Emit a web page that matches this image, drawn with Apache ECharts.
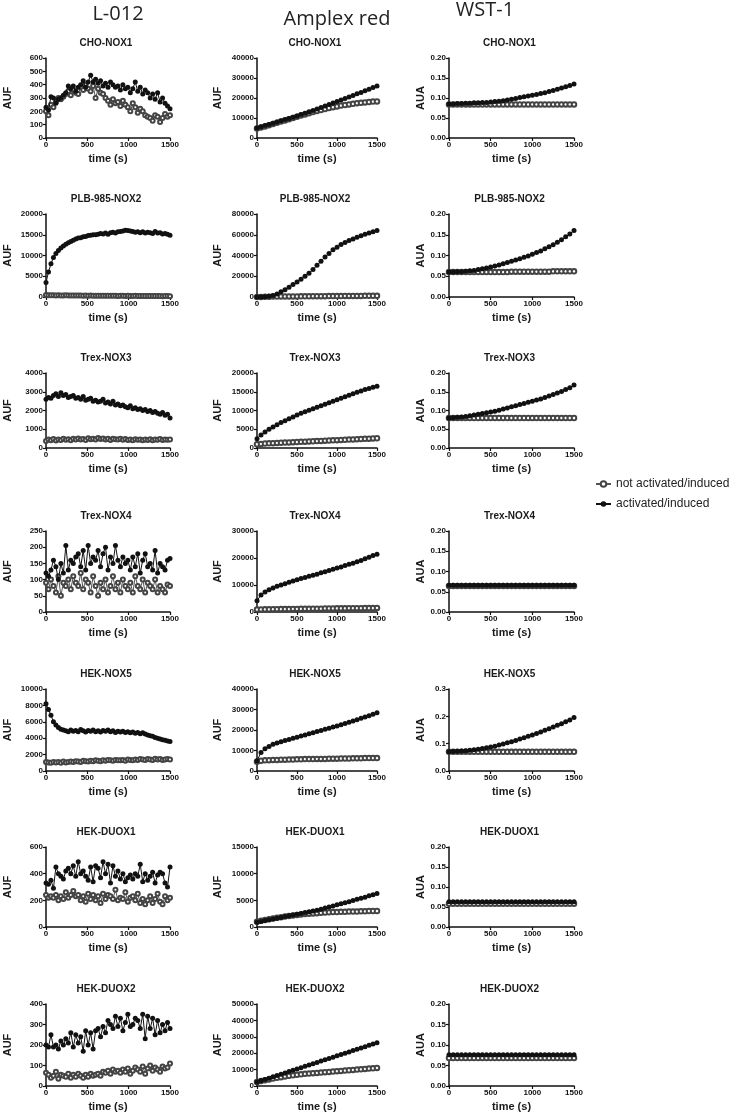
<!DOCTYPE html>
<html>
<head>
<meta charset="utf-8">
<script src="https://cdn.jsdelivr.net/npm/echarts@6/dist/echarts.min.js"></script>
<style>html,body{margin:0;padding:0;background:#fff;}#c{width:731px;height:1114px;}</style>
</head>
<body>
<div id="c"></div>
<script>
// ---------- x values ----------
const tL = [0,30,60,90,120,150,180,210,240,270,300,330,360,390,420,450,480,510,540,570,600,630,660,690,720,750,780,810,840,870,900,930,960,990,1020,1050,1080,1110,1140,1170,1200,1230,1260,1290,1320,1350,1380,1410,1440,1470,1500];
const tA = [0,50,100,150,200,250,300,350,400,450,500,550,600,650,700,750,800,850,900,950,1000,1050,1100,1150,1200,1250,1300,1350,1400,1450,1500];

// ---------- labels ----------
const assays = ["L-012","Amplex red","WST-1"];
const cellLines = ["CHO-NOX1","PLB-985-NOX2","Trex-NOX3","Trex-NOX4","HEK-NOX5","HEK-DUOX1","HEK-DUOX2"];
const yUnits = ["AUF","AUF","AUA"];
const seriesNames = ["not activated/induced","activated/induced"];
const xTickMax = 1500, xTickStep = 500;
const yMaxL012 = [600,20000,4000,250,10000,600,400];
const yStepL012 = [100,5000,1000,50,2000,200,100];
const yMaxAmplex = [40000,80000,20000,30000,40000,15000,50000];
const yStepAmplex = [10000,20000,5000,10000,10000,5000,10000];
const yMaxWST = [0.2,0.2,0.2,0.2,0.3,0.2,0.2];
const yStepWST = [0.05,0.05,0.05,0.05,0.1,0.05,0.05];

// ---------- L-012 ----------
const cho_L_off = [200,170,250,230,270,300,290,310,330,350,320,360,340,330,380,360,400,370,350,390,300,370,340,330,300,280,250,290,260,270,240,280,250,230,200,260,230,190,220,200,170,160,150,130,170,160,120,150,180,160,170];
const cho_L_on = [230,210,310,300,260,290,300,320,340,390,370,390,350,380,400,430,380,420,470,420,440,410,430,390,410,380,420,400,380,390,360,400,370,380,340,370,420,350,380,330,360,340,300,330,290,340,270,300,260,240,220];
const plb_L_off = [500,450,420,400,380,420,380,350,400,380,360,390,350,340,370,330,350,320,340,310,330,300,320,310,290,300,280,310,290,270,300,280,260,290,270,250,280,260,240,270,250,230,260,240,220,250,230,210,240,220,200];
const plb_L_on = [3500,6000,8000,9500,10500,11200,11800,12300,12700,13100,13400,13700,14000,14200,14300,14500,14600,14800,14900,15000,15000,15100,15300,15200,15400,15100,15500,15600,15400,15700,15800,15900,16100,16000,15900,15800,15600,15700,15500,15700,15400,15600,15500,15300,15800,15400,15500,15200,15300,15100,14900];
const nox3_L_off = [380,450,420,480,400,460,430,500,440,470,420,490,450,510,460,480,430,520,470,500,450,540,480,510,460,490,430,500,470,450,490,440,480,430,460,420,470,440,450,410,460,430,470,420,450,440,480,430,460,440,450];
const nox3_L_on = [2600,2700,2650,2800,2900,2750,2950,2800,2850,2700,2750,2800,2650,2700,2600,2750,2550,2600,2650,2500,2550,2450,2500,2600,2400,2450,2350,2500,2300,2350,2250,2300,2200,2150,2250,2100,2150,2050,2100,2000,2050,1950,2000,1900,1950,1850,1800,1900,1750,1800,1600];
const nox4_L_off = [90,70,100,80,60,110,50,90,80,100,70,110,90,80,120,70,100,90,60,110,80,50,90,70,100,60,80,110,70,90,60,100,80,70,90,60,110,80,70,100,60,90,80,70,100,60,80,70,60,85,80];
const nox4_L_on = [120,110,130,160,140,100,150,120,205,130,160,150,170,180,140,190,130,205,150,170,160,190,140,180,200,130,170,150,205,160,140,170,150,160,130,170,140,180,120,160,180,140,150,130,190,120,150,140,130,160,165];
const nox5_L_off = [1100,1050,1000,1100,1050,1100,1000,1150,1050,1100,1150,1100,1200,1150,1100,1250,1200,1150,1250,1200,1300,1250,1200,1300,1250,1350,1300,1250,1350,1300,1300,1350,1250,1400,1350,1300,1400,1350,1450,1400,1350,1450,1400,1350,1500,1400,1450,1350,1400,1450,1400];
const nox5_L_on = [8200,7500,6800,6000,5600,5300,5100,5000,4900,4800,5000,4850,4950,4800,5050,4900,4750,4950,4850,5000,4800,4900,4750,4950,4850,5000,4800,4900,4700,4850,4750,4850,4700,4800,4650,4750,4600,4700,4550,4650,4500,4400,4300,4250,4100,4000,3900,3800,3750,3650,3600];
const duox1_L_off = [240,220,230,220,240,200,230,210,260,220,240,270,230,240,200,230,190,250,210,240,200,230,180,250,210,240,230,210,280,200,220,210,260,190,220,230,200,250,180,210,170,200,230,180,210,250,190,170,230,200,220];
const duox1_L_on = [330,320,350,290,450,400,380,360,420,440,400,460,380,490,400,420,380,350,450,340,460,440,370,490,400,470,330,460,380,420,360,400,340,370,390,360,400,380,470,340,400,350,380,410,330,390,410,400,330,300,450];
const duox2_L_off = [65,55,40,50,70,35,55,50,45,60,40,55,45,60,50,40,55,45,60,50,55,60,50,70,65,75,60,80,70,75,65,80,70,85,60,75,90,80,70,95,60,85,100,75,90,80,70,95,85,90,110];
const duox2_L_on = [200,190,250,190,200,180,220,200,230,210,260,190,250,210,240,170,270,200,260,180,270,280,240,290,260,320,300,280,340,290,330,270,310,350,290,300,330,320,280,350,230,340,280,330,250,320,260,300,270,310,280];

// ---------- Amplex red ----------
const cho_A_off = [4800,5300,5800,6400,7000,7600,8200,8800,9400,10000,10600,11200,11800,12400,13000,13500,14000,14500,15000,15400,15800,16200,16500,16800,17100,17400,17600,17800,18000,18200,18300];
const cho_A_on = [5000,5600,6200,6800,7400,8000,8600,9200,9800,10400,11000,11700,12400,13100,13800,14500,15300,16000,16800,17500,18200,19000,19800,20500,21300,22100,22800,23600,24400,25200,26000];
const plb_A_off = [0,100,200,300,400,400,500,500,600,600,600,700,700,700,800,800,800,800,900,900,900,900,1000,1000,1000,1000,1000,1100,1100,1100,1100];
const plb_A_on = [0,100,300,700,1500,3000,5000,7000,9500,12000,14500,17000,20000,23000,26500,30500,34500,38500,42000,45500,48000,50500,52500,54500,56000,57500,59000,60500,61800,63000,64000];
const nox3_A_off = [1000,1100,1200,1250,1300,1350,1400,1450,1500,1550,1600,1650,1700,1750,1800,1850,1900,1950,2000,2050,2100,2150,2200,2250,2300,2350,2400,2450,2500,2550,2600];
const nox3_A_on = [2500,3500,4300,5000,5600,6200,6800,7300,7800,8300,8800,9300,9700,10100,10500,10900,11300,11700,12100,12500,12900,13300,13700,14100,14500,14900,15200,15600,15900,16200,16500];
const nox4_A_off = [900,950,1000,1000,1050,1050,1100,1100,1100,1150,1150,1200,1200,1200,1250,1250,1250,1300,1300,1300,1350,1350,1350,1400,1400,1400,1400,1450,1450,1450,1500];
const nox4_A_on = [4200,6300,7400,8200,8900,9500,10000,10500,11000,11500,11900,12400,12800,13200,13600,14000,14500,14900,15400,15800,16300,16700,17200,17700,18100,18600,19100,19700,20300,20900,21400];
const nox5_A_off = [4500,5000,5200,5300,5400,5400,5500,5500,5600,5600,5700,5700,5800,5800,5800,5900,5900,5900,6000,6000,6000,6100,6100,6100,6200,6200,6200,6300,6300,6300,6300];
const nox5_A_on = [5000,9000,10800,12000,13000,13700,14300,14900,15400,16000,16500,17100,17600,18200,18700,19300,19800,20400,20900,21500,22000,22600,23200,23800,24400,25000,25700,26300,27000,27700,28400];
const duox1_A_off = [1000,1150,1300,1450,1600,1750,1850,1950,2050,2150,2250,2350,2450,2500,2550,2600,2650,2700,2750,2800,2800,2850,2850,2900,2900,2900,2950,2950,3000,3000,3000];
const duox1_A_on = [900,1050,1200,1350,1500,1650,1800,1950,2100,2250,2400,2550,2700,2850,3000,3150,3350,3550,3750,3950,4150,4350,4550,4750,4950,5200,5400,5600,5850,6050,6300];
const duox2_A_off = [2500,3000,3500,4000,4500,5000,5400,5800,6200,6500,6800,7100,7400,7600,7800,8000,8200,8400,8600,8800,9000,9200,9400,9600,9800,10000,10200,10400,10600,10800,11000];
const duox2_A_on = [2500,3200,4000,4800,5600,6400,7200,8000,8800,9600,10400,11200,12000,12800,13600,14400,15200,16000,16800,17600,18400,19200,20000,20800,21600,22400,23200,24000,24800,25600,26400];

// ---------- WST-1 ----------
const cho_W_off = [0.084,0.084,0.084,0.084,0.084,0.084,0.084,0.084,0.084,0.084,0.084,0.084,0.084,0.084,0.084,0.084,0.084,0.084,0.084,0.084,0.084,0.084,0.084,0.084,0.084,0.084,0.084,0.084,0.084,0.084,0.084];
const cho_W_on = [0.085,0.085,0.086,0.086,0.087,0.087,0.088,0.088,0.089,0.089,0.090,0.091,0.092,0.093,0.095,0.097,0.099,0.101,0.103,0.105,0.107,0.109,0.111,0.113,0.116,0.119,0.122,0.125,0.128,0.131,0.135];
const plb_W_off = [0.060,0.060,0.060,0.060,0.060,0.060,0.060,0.060,0.060,0.060,0.060,0.060,0.060,0.060,0.060,0.061,0.061,0.061,0.061,0.061,0.061,0.061,0.061,0.061,0.061,0.062,0.062,0.062,0.062,0.062,0.062];
const plb_W_on = [0.060,0.060,0.061,0.061,0.062,0.063,0.064,0.066,0.068,0.070,0.072,0.075,0.077,0.080,0.083,0.086,0.089,0.092,0.096,0.099,0.103,0.107,0.111,0.116,0.121,0.126,0.132,0.138,0.145,0.152,0.160];
const nox3_W_off = [0.080,0.080,0.080,0.080,0.080,0.080,0.080,0.080,0.080,0.080,0.080,0.080,0.080,0.080,0.080,0.080,0.080,0.080,0.080,0.080,0.080,0.080,0.080,0.080,0.080,0.080,0.080,0.080,0.080,0.080,0.080];
const nox3_W_on = [0.080,0.081,0.082,0.083,0.084,0.086,0.088,0.090,0.092,0.094,0.096,0.098,0.101,0.104,0.107,0.110,0.113,0.116,0.119,0.122,0.125,0.128,0.131,0.135,0.139,0.143,0.147,0.151,0.156,0.161,0.168];
const nox4_W_off = [0.064,0.064,0.064,0.064,0.064,0.064,0.064,0.064,0.064,0.064,0.064,0.064,0.064,0.064,0.064,0.064,0.064,0.064,0.064,0.064,0.064,0.064,0.064,0.064,0.064,0.064,0.064,0.064,0.064,0.064,0.064];
const nox4_W_on = [0.066,0.066,0.066,0.066,0.066,0.066,0.066,0.066,0.066,0.066,0.066,0.066,0.066,0.066,0.066,0.066,0.066,0.066,0.066,0.066,0.066,0.066,0.066,0.066,0.066,0.066,0.066,0.066,0.066,0.066,0.066];
const nox5_W_off = [0.070,0.070,0.070,0.070,0.070,0.070,0.070,0.070,0.070,0.070,0.070,0.070,0.070,0.070,0.070,0.070,0.070,0.070,0.070,0.070,0.070,0.070,0.070,0.070,0.070,0.070,0.070,0.070,0.070,0.070,0.070];
const nox5_W_on = [0.070,0.071,0.072,0.073,0.074,0.076,0.078,0.080,0.082,0.085,0.088,0.091,0.095,0.099,0.103,0.107,0.112,0.117,0.122,0.127,0.132,0.137,0.143,0.149,0.155,0.161,0.167,0.173,0.180,0.187,0.196];
const duox1_W_off = [0.058,0.058,0.058,0.058,0.058,0.058,0.058,0.058,0.058,0.058,0.058,0.058,0.058,0.058,0.058,0.058,0.058,0.058,0.058,0.058,0.058,0.058,0.058,0.058,0.058,0.058,0.058,0.058,0.058,0.058,0.058];
const duox1_W_on = [0.063,0.063,0.063,0.063,0.063,0.063,0.063,0.063,0.063,0.063,0.063,0.063,0.063,0.063,0.063,0.063,0.063,0.063,0.063,0.063,0.063,0.063,0.063,0.063,0.063,0.063,0.063,0.063,0.063,0.063,0.063];
const duox2_W_off = [0.068,0.068,0.068,0.068,0.068,0.068,0.068,0.068,0.068,0.068,0.068,0.068,0.068,0.068,0.068,0.068,0.068,0.068,0.068,0.068,0.068,0.068,0.068,0.068,0.068,0.068,0.068,0.068,0.068,0.068,0.068];
const duox2_W_on = [0.076,0.076,0.076,0.076,0.076,0.076,0.076,0.076,0.076,0.076,0.076,0.076,0.076,0.076,0.076,0.076,0.076,0.076,0.076,0.076,0.076,0.076,0.076,0.076,0.076,0.076,0.076,0.076,0.076,0.076,0.076];

// ---------- assemble ----------
const offData = [
  [cho_L_off, cho_A_off, cho_W_off],
  [plb_L_off, plb_A_off, plb_W_off],
  [nox3_L_off, nox3_A_off, nox3_W_off],
  [nox4_L_off, nox4_A_off, nox4_W_off],
  [nox5_L_off, nox5_A_off, nox5_W_off],
  [duox1_L_off, duox1_A_off, duox1_W_off],
  [duox2_L_off, duox2_A_off, duox2_W_off]
];
const onData = [
  [cho_L_on, cho_A_on, cho_W_on],
  [plb_L_on, plb_A_on, plb_W_on],
  [nox3_L_on, nox3_A_on, nox3_W_on],
  [nox4_L_on, nox4_A_on, nox4_W_on],
  [nox5_L_on, nox5_A_on, nox5_W_on],
  [duox1_L_on, duox1_A_on, duox1_W_on],
  [duox2_L_on, duox2_A_on, duox2_W_on]
];
const yMax = [yMaxL012, yMaxAmplex, yMaxWST];
const yStep = [yStepL012, yStepAmplex, yStepWST];
const times = [tL, tA, tA];

// layout
const colLeft = [46, 257, 449];
const colWidth = [124, 120, 125];
const rowTop = [58, 214, 373, 531, 689, 847, 1004];
const rowHeight = [80, 83, 75, 81, 82, 80, 82];
const yNameGap = [33, 34, 23];
const headerPos = [[118, 14], [337, 19], [485, 10]];

const FONT = '"Liberation Sans", Arial, sans-serif';
const INK = '#111';

const grid = [], xAxis = [], yAxis = [], series = [], graphic = [];

assays.forEach((a, c) => {
  graphic.push({
    type: 'text', x: headerPos[c][0], y: headerPos[c][1],
    style: { text: a, font: '20px "Open Sans", sans-serif', fill: '#222', textAlign: 'center', textVerticalAlign: 'middle' }
  });
});

for (let r = 0; r < cellLines.length; r++) {
  for (let c = 0; c < 3; c++) {
    const idx = r * 3 + c;
    grid.push({ left: colLeft[c], top: rowTop[r], width: colWidth[c], height: rowHeight[r], containLabel: false });
    graphic.push({
      type: 'text', x: colLeft[c] + colWidth[c] / 2 - 2, y: rowTop[r] - 15,
      style: { text: cellLines[r], font: 'bold 10px ' + FONT, fill: '#1a1a1a', textAlign: 'center', textVerticalAlign: 'middle' }
    });
    xAxis.push({
      gridIndex: idx, type: 'value', min: 0, max: xTickMax, interval: xTickStep,
      name: 'time (s)', nameLocation: 'middle', nameGap: 15,
      nameTextStyle: { fontFamily: FONT, fontWeight: 'bold', fontSize: 11, color: '#1a1a1a' },
      axisLine: { show: true, onZero: false, lineStyle: { color: INK, width: 1.5 } },
      axisTick: { show: true, length: 3, lineStyle: { color: INK, width: 1.2 } },
      axisLabel: { fontFamily: FONT, fontWeight: 'bold', fontSize: 8, color: INK, margin: 3,
        formatter: v => String(v) },
      splitLine: { show: false }
    });
    const dec = (c === 2) ? (yStep[c][r] >= 0.1 ? 1 : 2) : 0;
    yAxis.push({
      gridIndex: idx, type: 'value', min: 0, max: yMax[c][r], interval: yStep[c][r],
      name: yUnits[c], nameLocation: 'middle', nameGap: yNameGap[c], nameRotate: 90,
      nameTextStyle: { fontFamily: FONT, fontWeight: 'bold', fontSize: 11, color: '#1a1a1a' },
      axisLine: { show: true, lineStyle: { color: INK, width: 1.5 } },
      axisTick: { show: true, length: 3, lineStyle: { color: INK, width: 1.2 } },
      axisLabel: { fontFamily: FONT, fontWeight: 'bold', fontSize: 8, color: INK, margin: 3,
        formatter: v => dec ? v.toFixed(dec) : String(v) },
      splitLine: { show: false }
    });
    const t = times[c];
    series.push({
      name: seriesNames[0], type: 'line', xAxisIndex: idx, yAxisIndex: idx,
      data: t.map((x, i) => [x, offData[r][c][i]]),
      symbol: 'emptyCircle', symbolSize: c === 0 ? 4 : 4.5, showSymbol: true,
      lineStyle: { color: '#555', width: 1 },
      itemStyle: { color: '#444', borderColor: '#444', borderWidth: 1.2 },
      z: 2
    });
    series.push({
      name: seriesNames[1], type: 'line', xAxisIndex: idx, yAxisIndex: idx,
      data: t.map((x, i) => [x, onData[r][c][i]]),
      symbol: 'circle', symbolSize: 5, showSymbol: true,
      lineStyle: { color: INK, width: 1 },
      itemStyle: { color: INK },
      z: 3
    });
  }
}

const chart = echarts.init(document.getElementById('c'), null, { renderer: 'canvas' });
chart.setOption({
  backgroundColor: '#fff',
  animation: false,
  grid, xAxis, yAxis, series, graphic,
  legend: {
    data: seriesNames, orient: 'vertical', left: 590, top: 473,
    itemWidth: 15, itemHeight: 7, itemGap: 8,
    textStyle: { fontFamily: FONT, fontSize: 12, color: '#222' },
    selectedMode: false
  }
});
</script>
</body>
</html>
